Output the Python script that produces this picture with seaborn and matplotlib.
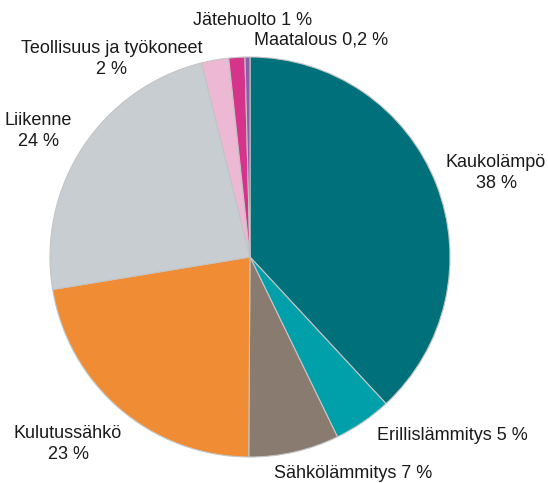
import matplotlib
matplotlib.use("Agg")
import matplotlib.pyplot as plt
import seaborn as sns

# Shares (labels carry the rounded figures)
categories = ["Kaukolämpö", "Erillislämmitys", "Sähkölämmitys", "Kulutussähkö",
              "Liikenne", "Teollisuus ja työkoneet", "Jätehuolto", "Maatalous"]
shares = [38.1, 4.7, 7.3, 22.3, 23.7, 2.2, 1.3, 0.4]
labels = ["Kaukolämpö\n38 %", "Erillislämmitys 5 %", "Sähkölämmitys 7 %",
          "Kulutussähkö\n23 %", "Liikenne\n24 %", "Teollisuus ja työkoneet\n2 %",
          "Jätehuolto 1 %", "Maatalous 0,2 %"]
colors = ["#00717B", "#00A0AB", "#8A7B70", "#F08C33",
          "#C8CDD1", "#EDB8D3", "#D6338A", "#8B5FA8"]

# label centres in pixels of the 548x483 image
label_px = [(496, 173), (452, 435), (353, 473), (68, 444),
            (38, 131), (112, 59), (253, 20), (321, 40)]

sns.set_theme(style="white")
plt.rcParams['font.family'] = ['Liberation Sans', 'DejaVu Sans']

fig = plt.figure(figsize=(5.48, 4.83), dpi=100)
ax = fig.add_axes([0, 0, 1, 1])

cx, cy, r = 250, 257, 200
ax.pie(shares, colors=colors, startangle=90, counterclock=False,
       center=(0, 0), radius=1,
       wedgeprops=dict(edgecolor="#C4C4C4", linewidth=0.8))

ax.set_xlim(-cx / r, (548 - cx) / r)
ax.set_ylim(-(483 - cy) / r, cy / r)
ax.set_aspect("equal")
ax.axis("off")

for text, (px, py) in zip(labels, label_px):
    ax.text((px - cx) / r, (cy - py) / r, text, ha="center", va="center",
            fontsize=13, color="#1A1A1A", multialignment="center", linespacing=1.25)

fig.savefig("out.png", dpi=100, facecolor="white")
